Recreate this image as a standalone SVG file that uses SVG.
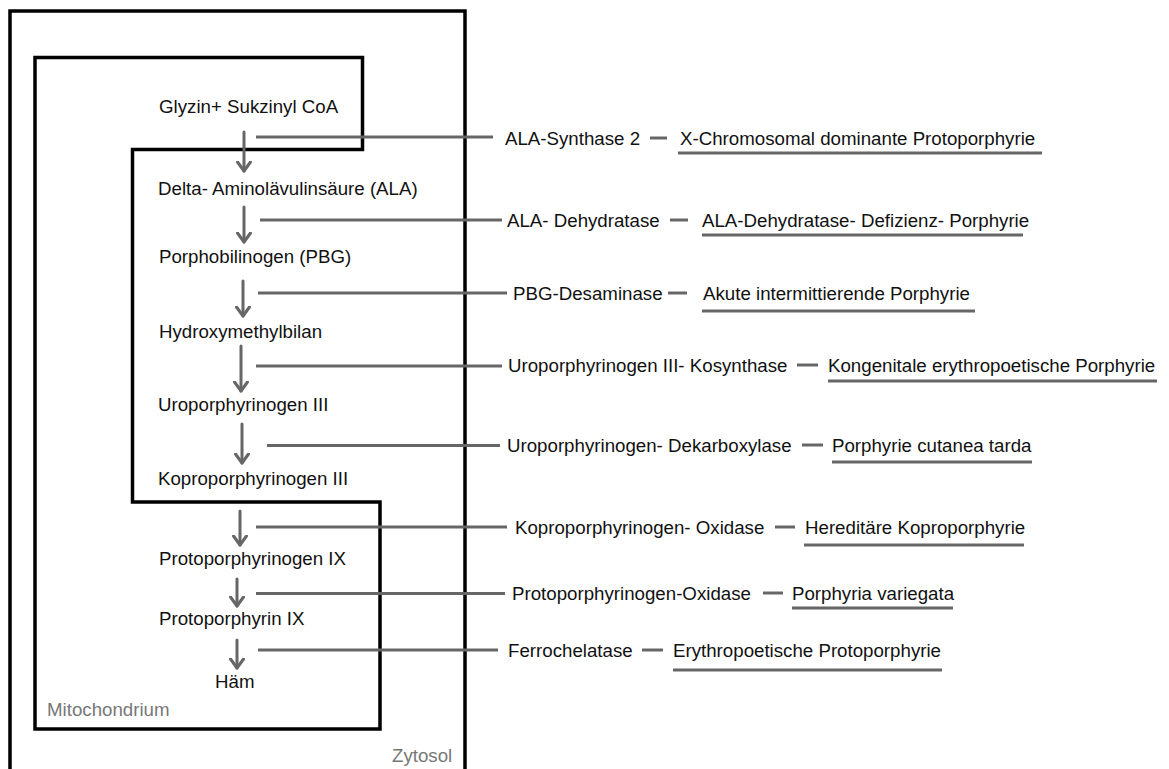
<svg xmlns="http://www.w3.org/2000/svg" width="1169" height="769" viewBox="0 0 1169 769">
<style>
text{font-family:"Liberation Sans",Arial,sans-serif;font-size:18.7px;fill:#111}
.comp{fill:#777}
.box{fill:none;stroke:#000;stroke-width:3.5}
.ln{stroke:#666;stroke-width:3;fill:none}
.ar{stroke:#666;stroke-width:3;fill:none;stroke-linecap:round}
.ul{stroke:#666;stroke-width:3}
</style>
<defs>
<marker id="ah" viewBox="0 0 12 16" refX="10.5" refY="8" markerWidth="12" markerHeight="16" markerUnits="userSpaceOnUse" orient="auto">
<path d="M1.5,1.5 L10.5,8 L1.5,14.5" fill="none" stroke="#666" stroke-width="3" stroke-linecap="round" stroke-linejoin="round"/>
</marker>
</defs>
<rect width="1169" height="769" fill="#fff"/>
<g id="zytosol">
<path class="box" d="M10,775 L10,11 L465,11 L465,775"/>
<text class="comp" x="392" y="762">Zytosol</text>
</g>
<g id="mitochondrium">
<path class="box" d="M35,57.5 L362.5,57.5 L362.5,149.5 L132.5,149.5 L132.5,502 L380,502 L380,729 L35,729 Z"/>
<text class="comp" x="47" y="716">Mitochondrium</text>
</g>
<g id="connectors">
<line class="ar" x1="244" y1="132" x2="244" y2="171" marker-end="url(#ah)"/>
<line class="ar" x1="244" y1="207" x2="244" y2="242" marker-end="url(#ah)"/>
<line class="ar" x1="243" y1="281" x2="243" y2="316" marker-end="url(#ah)"/>
<line class="ar" x1="241" y1="346" x2="241" y2="391" marker-end="url(#ah)"/>
<line class="ar" x1="242" y1="424" x2="242" y2="463" marker-end="url(#ah)"/>
<line class="ar" x1="240" y1="511" x2="240" y2="545" marker-end="url(#ah)"/>
<line class="ar" x1="237" y1="579" x2="237" y2="606" marker-end="url(#ah)"/>
<line class="ar" x1="237" y1="640" x2="237" y2="668" marker-end="url(#ah)"/>
<line class="ln" x1="256" y1="137" x2="493" y2="137"/>
<line class="ln" x1="650" y1="138" x2="667" y2="138"/>
<line class="ln" x1="260" y1="220" x2="502" y2="220"/>
<line class="ln" x1="670" y1="220" x2="688" y2="220"/>
<line class="ln" x1="258" y1="293" x2="507" y2="293"/>
<line class="ln" x1="668" y1="293" x2="687" y2="293"/>
<line class="ln" x1="256" y1="366" x2="502" y2="366"/>
<line class="ln" x1="797" y1="365" x2="818" y2="365"/>
<line class="ln" x1="267" y1="445.5" x2="500" y2="445.5"/>
<line class="ln" x1="802" y1="445" x2="823" y2="445"/>
<line class="ln" x1="256" y1="527" x2="507" y2="527"/>
<line class="ln" x1="775" y1="527" x2="795" y2="527"/>
<line class="ln" x1="256" y1="593.5" x2="505" y2="593.5"/>
<line class="ln" x1="763" y1="593" x2="783" y2="593"/>
<line class="ln" x1="258" y1="650" x2="498" y2="650"/>
<line class="ln" x1="642" y1="650" x2="663" y2="650"/>
</g>
<g id="n-glyzin"><text x="159" y="113">Glyzin+ Sukzinyl CoA</text></g>
<g id="n-ala"><text x="158" y="195">Delta- Aminolävulinsäure (ALA)</text></g>
<g id="n-pbg"><text x="159" y="263">Porphobilinogen (PBG)</text></g>
<g id="n-hmb"><text x="159" y="338">Hydroxymethylbilan</text></g>
<g id="n-uro"><text x="158" y="411">Uroporphyrinogen III</text></g>
<g id="n-kopro"><text x="158" y="485">Koproporphyrinogen III</text></g>
<g id="n-protogen"><text x="159" y="565">Protoporphyrinogen IX</text></g>
<g id="n-proto"><text x="159" y="625">Protoporphyrin IX</text></g>
<g id="n-haem"><text x="215" y="688">Häm</text></g>
<g id="e-alas"><text x="505" y="145">ALA-Synthase 2</text></g>
<g id="e-alad"><text x="507" y="227">ALA- Dehydratase</text></g>
<g id="e-pbgd"><text x="513" y="300">PBG-Desaminase</text></g>
<g id="e-uros"><text x="508" y="372">Uroporphyrinogen III- Kosynthase</text></g>
<g id="e-urod"><text x="507" y="452">Uroporphyrinogen- Dekarboxylase</text></g>
<g id="e-cpox"><text x="515" y="534">Koproporphyrinogen- Oxidase</text></g>
<g id="e-ppox"><text x="512" y="600">Protoporphyrinogen-Oxidase</text></g>
<g id="e-fech"><text x="508" y="657">Ferrochelatase</text></g>
<g id="d-xlpp"><text x="680" y="145">X-Chromosomal dominante Protoporphyrie</text><line class="ul" x1="678" y1="153" x2="1042" y2="153"/></g>
<g id="d-adp"><text x="702" y="227">ALA-Dehydratase- Defizienz- Porphyrie</text><line class="ul" x1="702" y1="235" x2="1023" y2="235"/></g>
<g id="d-aip"><text x="703" y="300">Akute intermittierende Porphyrie</text><line class="ul" x1="702" y1="311" x2="975" y2="311"/></g>
<g id="d-cep"><text x="828" y="372">Kongenitale erythropoetische Porphyrie</text><line class="ul" x1="828" y1="381" x2="1157" y2="381"/></g>
<g id="d-pct"><text x="832" y="452">Porphyrie cutanea tarda</text><line class="ul" x1="832" y1="462" x2="1032" y2="462"/></g>
<g id="d-hcp"><text x="805" y="534">Hereditäre Koproporphyrie</text><line class="ul" x1="804" y1="545" x2="1024" y2="545"/></g>
<g id="d-vp"><text x="792" y="600">Porphyria variegata</text><line class="ul" x1="792" y1="608" x2="953" y2="608"/></g>
<g id="d-epp"><text x="673" y="657">Erythropoetische Protoporphyrie</text><line class="ul" x1="673" y1="670" x2="942" y2="670"/></g>
</svg>
